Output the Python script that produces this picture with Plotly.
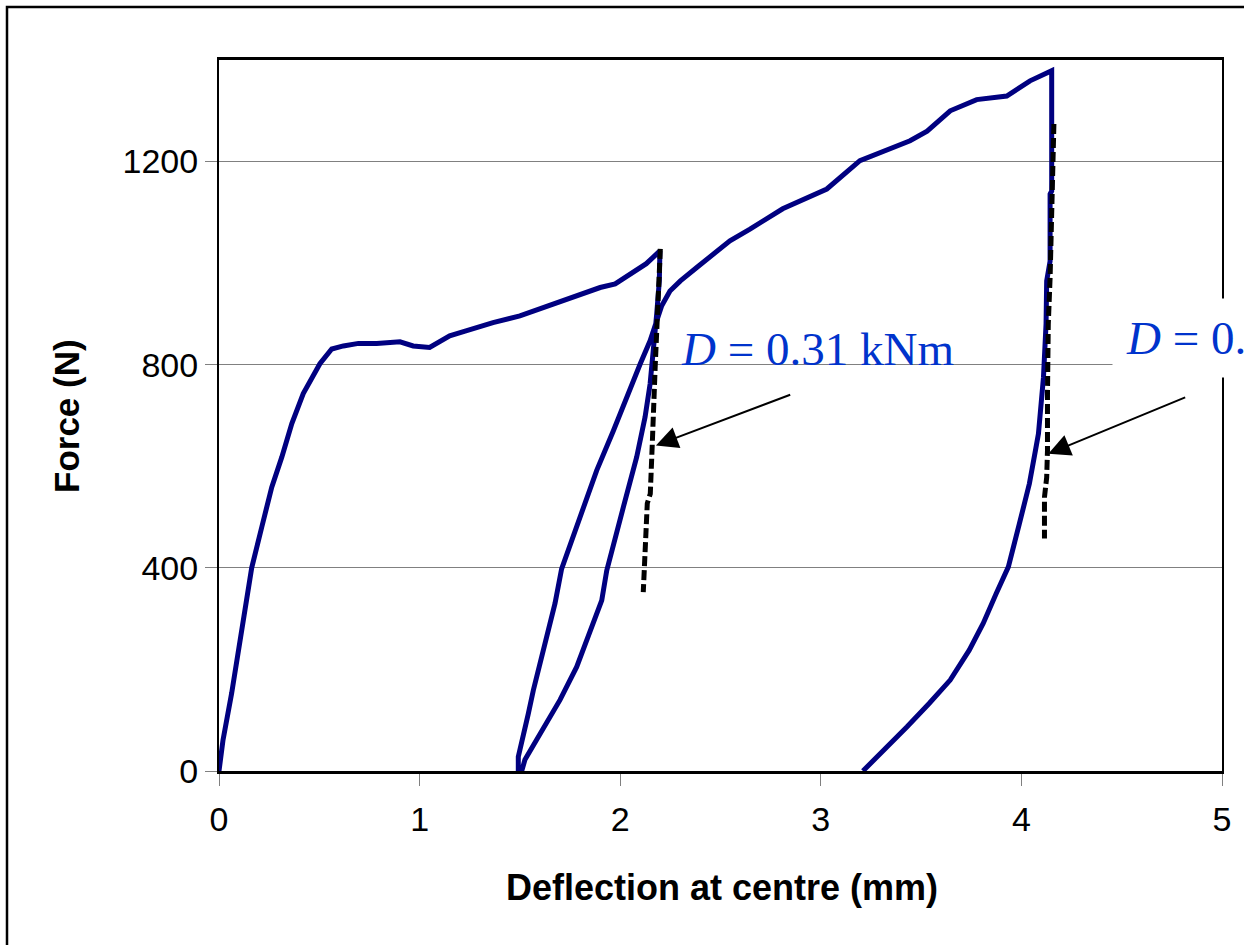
import plotly.graph_objects as go

# ---- data (deflection in mm, force in N) ----
load1_x = [0, 0.02, 0.063, 0.113, 0.163, 0.213, 0.263, 0.313, 0.363, 0.42, 0.503, 0.562, 0.62, 0.695,
           0.786, 0.902, 0.968, 1.05, 1.15, 1.235, 1.366, 1.5, 1.6, 1.7, 1.8, 1.9, 1.975, 2.13, 2.198]
load1_y = [0, 61, 153, 277, 400, 480, 559, 618, 684, 743, 802, 831, 837, 842,
           842, 845, 837, 834, 857, 867, 883, 896, 910, 924, 937, 952, 959, 999, 1024]

unload1_x = [2.198, 2.195, 2.182, 2.165, 2.149, 2.124, 2.082, 2.016, 1.933, 1.908, 1.849, 1.783,
             1.70, 1.634, 1.567, 1.525, 1.509]
unload1_y = [1024, 965, 900, 814, 762, 697, 618, 520, 395, 336, 271, 205, 140, 94, 48, 22, 0]

reload_x = [1.492, 1.492, 1.509, 1.542, 1.567, 1.60, 1.634, 1.675, 1.708, 1.80, 1.883, 1.966, 2.03,
            2.099, 2.149, 2.182, 2.207, 2.248, 2.30, 2.38, 2.464, 2.547, 2.647, 2.81, 3.03, 3.195,
            3.445, 3.53, 3.645, 3.777, 3.927, 4.043, 4.151]
reload_y = [0, 28, 54, 113, 159, 212, 271, 330, 398, 500, 592, 670, 736,
            801, 847, 887, 916, 945, 965, 991, 1018, 1044, 1067, 1107, 1146, 1202,
            1241, 1260, 1300, 1322, 1329, 1359, 1379]

unload2_x = [4.151, 4.151, 4.143, 4.143, 4.126, 4.123, 4.11, 4.10, 4.085, 4.07, 4.04, 3.99, 3.935,
             3.875, 3.81, 3.74, 3.645, 3.54, 3.43, 3.21]
unload2_y = [1379, 1142, 1136, 1004, 965, 881, 775, 723, 664, 631, 566, 487, 402,
             350, 291, 238, 179, 133, 87, 0]

tangent1_x = [2.2, 2.19, 2.175, 2.16, 2.15, 2.135, 2.115]
tangent1_y = [1028, 912, 802, 645, 546, 527, 352]

tangent2_x = [4.162, 4.157, 4.143, 4.134, 4.13, 4.13, 4.13, 4.126, 4.115, 4.115]
tangent2_y = [1274, 1166, 971, 880, 788, 743, 631, 578, 539, 458]

x_ticks = [0, 1, 2, 3, 4, 5]
y_ticks = [0, 400, 800, 1200]

label1 = "<i>D</i> = 0.31 kNm"
label2 = "<i>D</i> = 0.33 kNm"

curve_x = load1_x + unload1_x + reload_x + unload2_x
curve_y = load1_y + unload1_y + reload_y + unload2_y

fig = go.Figure()
fig.add_trace(go.Scatter(x=curve_x, y=curve_y, mode="lines",
                         line=dict(color="#000080", width=5), hoverinfo="skip"))
fig.add_trace(go.Scatter(x=tangent1_x, y=tangent1_y, mode="lines",
                         line=dict(color="black", width=5, dash="10px,4px"), hoverinfo="skip"))
fig.add_trace(go.Scatter(x=tangent2_x, y=tangent2_y, mode="lines",
                         line=dict(color="black", width=5, dash="10px,4px"), hoverinfo="skip"))

W, H = 1244, 945
L, R, T, B = 219, 22, 60, 174
pw, ph = W - L - R, H - T - B

def px(xp):
    return (xp - L) / pw

def py(yp):
    return (H - B - yp) / ph

axis_font = dict(family="Liberation Sans, Arial, sans-serif", size=34, color="black")
fig.update_layout(
    width=W, height=H,
    margin=dict(l=L, r=R, t=T, b=B),
    paper_bgcolor="white", plot_bgcolor="white",
    showlegend=False,
    xaxis=dict(range=[0, 5], tickvals=x_ticks, ticks="outside", ticklen=12, tickwidth=1,
               tickcolor="#808080", showgrid=False, zeroline=False, showline=True,
               linecolor="black", linewidth=2.5, mirror=True, tickfont=axis_font,
               ticklabelstandoff=4),
    yaxis=dict(range=[0, 1400], tickvals=y_ticks, ticks="outside", ticklen=12, tickwidth=1,
               tickcolor="#808080", showgrid=True, gridcolor="#808080", gridwidth=1,
               zeroline=False, showline=True, linecolor="black", linewidth=2, mirror=True,
               tickfont=axis_font),
)

serif = dict(family="Liberation Serif, Times New Roman, serif", size=47, color="#0033cc")
annotations = [
    dict(text=label1, xref="paper", yref="paper", x=px(680), y=py(348.5),
         xanchor="left", yanchor="middle", showarrow=False, font=serif, borderpad=0),
    dict(text=label2, xref="paper", yref="paper", x=px(1112), y=py(338.5),
         xanchor="left", yanchor="middle", showarrow=False, font=serif,
         bgcolor="white", borderpad=13),
    dict(text="", x=2.178, y=641, ax=2.855, ay=742, xref="x", yref="y", axref="x", ayref="y",
         showarrow=True, arrowhead=2, arrowsize=2.2, arrowwidth=2, arrowcolor="black"),
    dict(text="", x=4.134, y=624.5, ax=4.824, ay=737, xref="x", yref="y", axref="x", ayref="y",
         showarrow=True, arrowhead=2, arrowsize=2.2, arrowwidth=2, arrowcolor="black"),
    dict(text="<b>Force (N)</b>", xref="paper", yref="paper", x=px(66), y=py(416),
         xanchor="center", yanchor="middle", textangle=-90, showarrow=False,
         font=dict(family="Liberation Sans, Arial, sans-serif", size=35, color="black")),
    dict(text="<b>Deflection at centre (mm)</b>", xref="paper", yref="paper", x=px(722), y=py(887.6),
         xanchor="center", yanchor="middle", showarrow=False,
         font=dict(family="Liberation Sans, Arial, sans-serif", size=36, color="black")),
]
fig.update_layout(annotations=annotations)

fig.add_shape(type="rect", xref="paper", yref="paper",
              x0=px(7), x1=px(1270), y0=py(970), y1=py(7),
              line=dict(color="black", width=2.5), fillcolor="rgba(0,0,0,0)", layer="above")

fig.write_html("out.html", config={"displayModeBar": False})
